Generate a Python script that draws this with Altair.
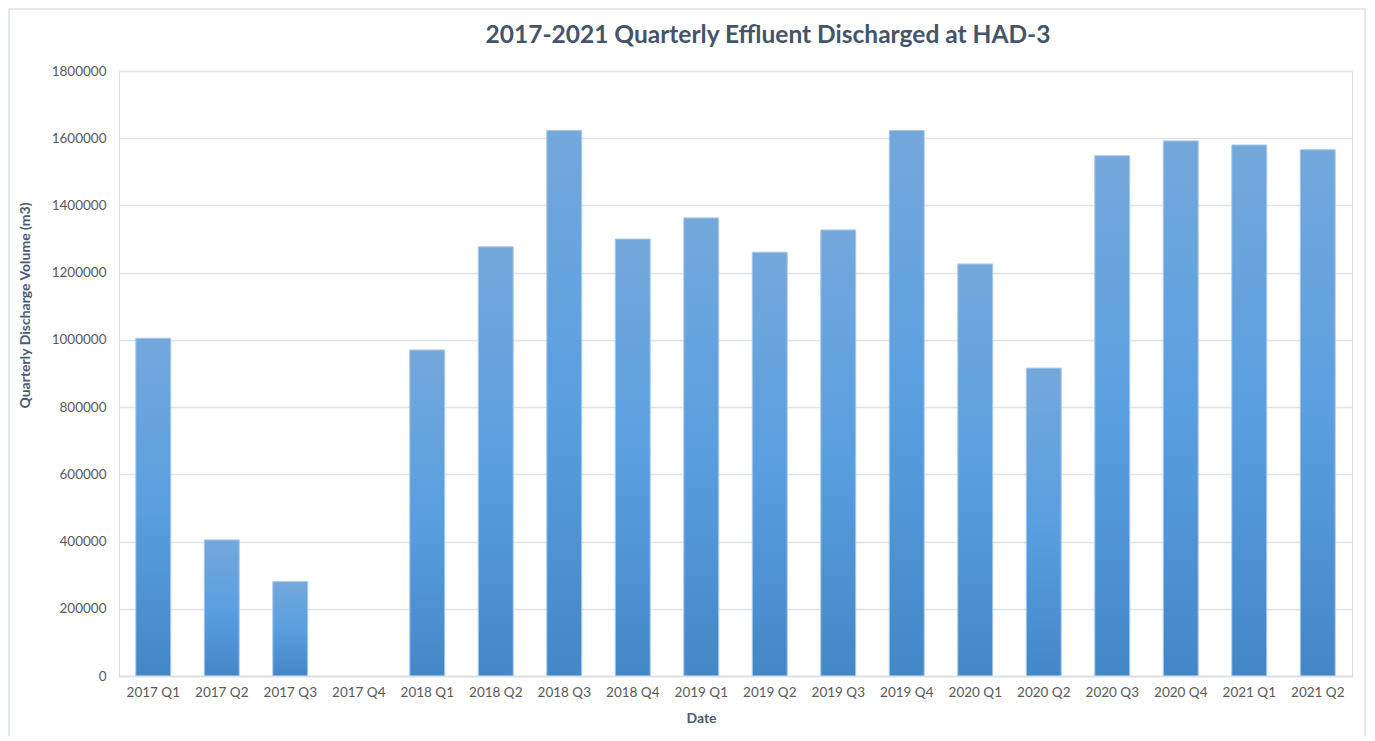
import altair as alt
import pandas as pd

quarters = ["2017 Q1", "2017 Q2", "2017 Q3", "2017 Q4", "2018 Q1", "2018 Q2",
            "2018 Q3", "2018 Q4", "2019 Q1", "2019 Q2", "2019 Q3", "2019 Q4",
            "2020 Q1", "2020 Q2", "2020 Q3", "2020 Q4", "2021 Q1", "2021 Q2"]
volumes = [1005000, 405000, 281000, 0, 970000, 1277000,
           1623000, 1300000, 1363000, 1261000, 1327000, 1623000,
           1226000, 916000, 1548000, 1592000, 1580000, 1566000]
y_ticks = [0, 200000, 400000, 600000, 800000, 1000000, 1200000, 1400000, 1600000, 1800000]
title_text = "2017-2021 Quarterly Effluent Discharged at HAD-3"

df = pd.DataFrame({"Date": quarters, "Volume": volumes})

FONT = "Lato"
W, H = 1233, 605

gradient = alt.LinearGradient(
    gradient="linear", x1=0, y1=0, x2=0, y2=1,
    stops=[alt.GradientStop(offset=0, color="#74a8dc"),
           alt.GradientStop(offset=0.5, color="#5a9fe0"),
           alt.GradientStop(offset=1, color="#4387c7")],
)

one = pd.DataFrame({"a": [0]})

border = alt.Chart(one).mark_rect(
    fillOpacity=0, stroke="#dde1e6", strokeWidth=1.5
).encode(
    x=alt.value(-110), x2=alt.value(W + 13),
    y=alt.value(-62), y2=alt.value(H + 200),
)

title = alt.Chart(one).mark_text(
    text=title_text, font=FONT, fontSize=24.5, fontWeight="bold", color="#44546a",
    align="center", baseline="middle",
).encode(x=alt.value(649), y=alt.value(-35))

bars = alt.Chart(df).mark_bar(
    color=gradient, stroke="#a9c9ea", strokeWidth=1
).encode(
    x=alt.X("Date:N", sort=quarters,
            scale=alt.Scale(paddingInner=0.49, paddingOuter=0.245),
            axis=alt.Axis(title="Date", labelAngle=0, labelFontSize=13.5, labelColor="#595959",
                          labelFont=FONT, labelPadding=9, ticks=False, domain=True,
                          domainColor="#d9dee6", domainWidth=1.5, zindex=1,
                          titleFont=FONT, titleFontSize=14, titleFontWeight="bold",
                          titleColor="#485a6e", titleX=582, titleY=42,
                          titleAnchor="middle", titleAlign="center", titleBaseline="middle")),
    y=alt.Y("Volume:Q",
            scale=alt.Scale(domain=[0, 1800000], nice=False),
            axis=alt.Axis(title="Quarterly Discharge Volume (m3)", values=y_ticks,
                          format="d", labelFontSize=13.5, labelColor="#595959",
                          labelFont=FONT, labelPadding=13, ticks=False, domain=False,
                          grid=True, gridColor="#dde3ec", gridWidth=1.3,
                          titleFont=FONT, titleFontSize=14, titleFontWeight="bold",
                          titleColor="#485a6e", titleX=-94, titleY=234, titleAngle=-90,
                          titleAlign="center", titleBaseline="middle")),
    strokeOpacity=alt.condition("datum.Volume > 0", alt.value(1), alt.value(0)),
)

chart = alt.layer(border, title, bars).properties(
    width=W, height=H,
    autosize=alt.AutoSizeParams(type="none"),
    padding={"left": 111, "top": 63, "right": 15, "bottom": 60},
).configure_view(stroke=None).configure(background="white")

chart.save("out.html", embed_options={"renderer": "svg", "actions": False})
